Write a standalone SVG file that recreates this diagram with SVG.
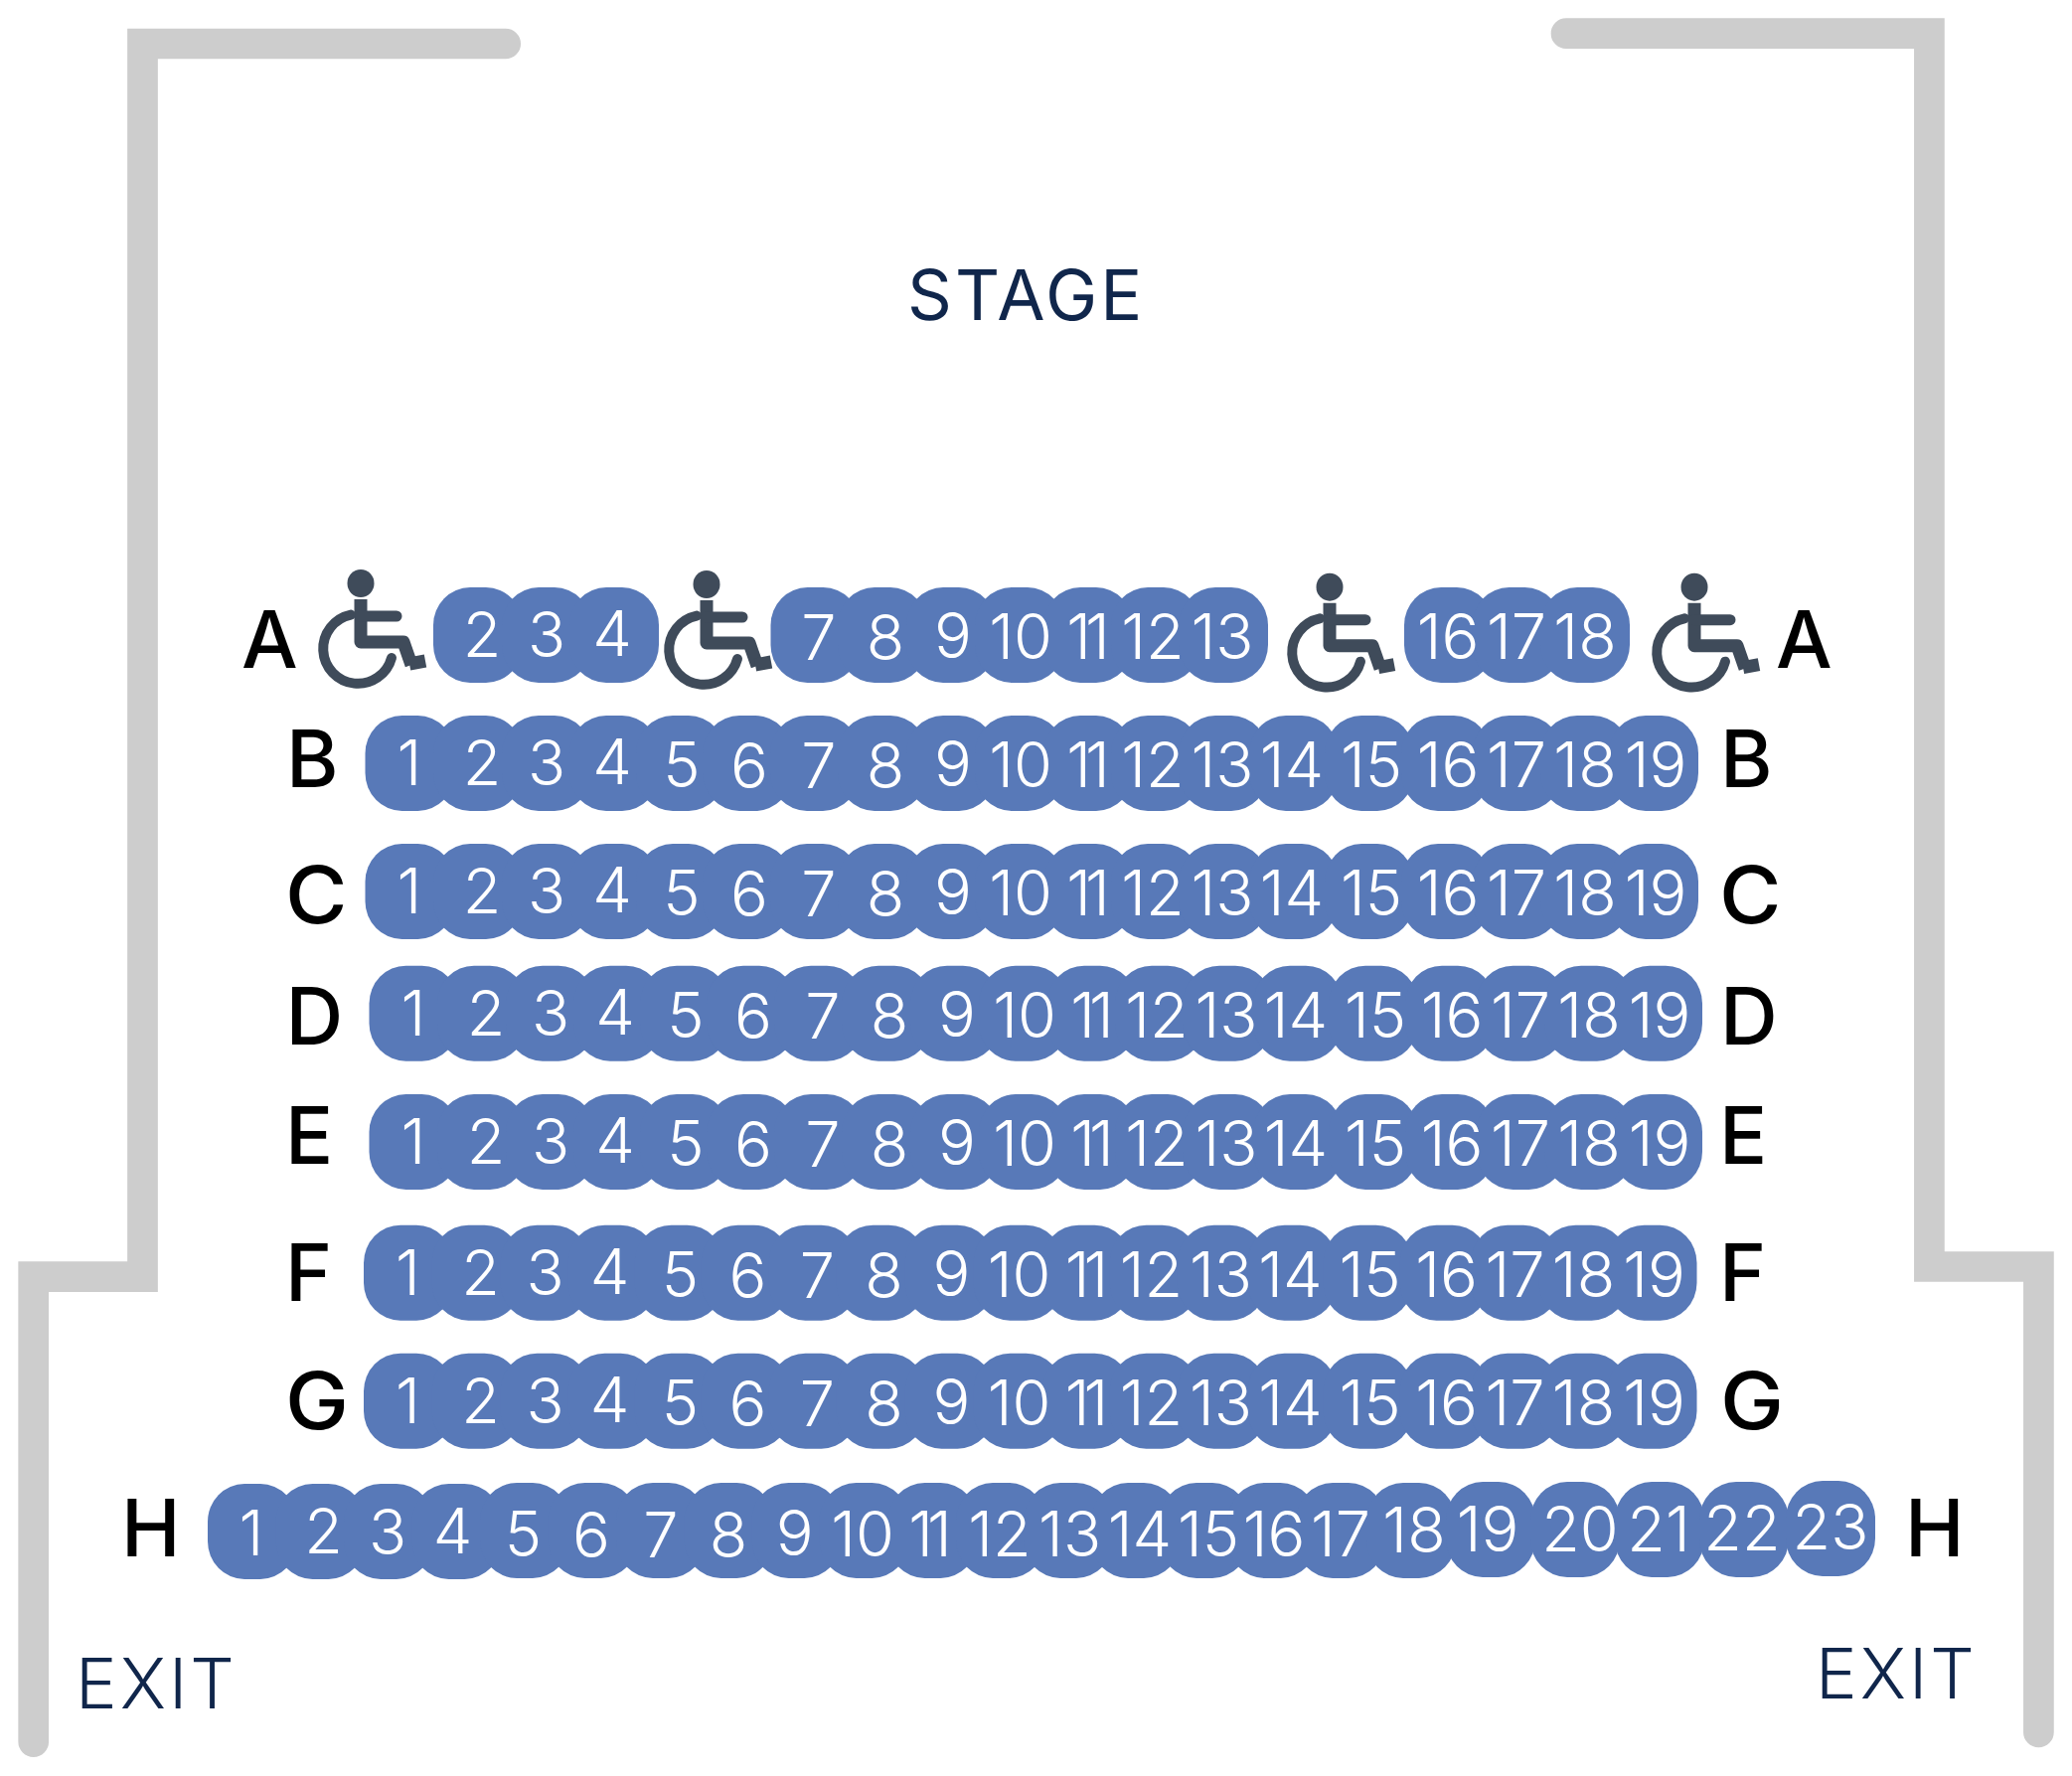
<svg xmlns="http://www.w3.org/2000/svg" width="2085" height="1787" viewBox="0 0 2085 1787">
<style>
.wall{fill:none;stroke:#cdcdcd;stroke-width:30.7;stroke-linecap:round;stroke-linejoin:miter}
.t{font-family:"Inter","Liberation Sans",sans-serif;fill:#10264b}
.lab{font-family:"Inter","Liberation Sans",sans-serif;font-size:80px;font-weight:500;fill:#000}
.n{font-family:"Inter","Liberation Sans",sans-serif;font-size:63px;font-weight:300;fill:#fff;text-anchor:middle}
.e{letter-spacing:-6px}
.seat{fill:#5879b8}
.wc{fill:none;stroke:#3f4b5a;stroke-linejoin:round}
</style>
<defs>
<rect id="s" class="seat" x="-45" y="0" width="90" height="96" rx="37" ry="38"/>
<g id="w">
<ellipse cx="0" cy="0" rx="13.5" ry="14" fill="#3f4b5a"/>
<path class="wc" d="M0,16V59H43L51,82" stroke-width="13"/>
<path class="wc" d="M0,33H36" stroke-width="11" stroke-linecap="round"/>
<path class="wc" d="M49,81L65,78" stroke-width="13"/>
<path class="wc" d="M-10,31.6A35,35 0 1 0 31,75" stroke-width="10" stroke-linecap="round"/>
</g>
<g id="seats19">
<use href="#s" x="412.5"/><use href="#s" x="481"/><use href="#s" x="550"/><use href="#s" x="618"/><use href="#s" x="685"/><use href="#s" x="752"/><use href="#s" x="820"/><use href="#s" x="888"/><use href="#s" x="957"/><use href="#s" x="1026"/><use href="#s" x="1095"/><use href="#s" x="1163"/><use href="#s" x="1231"/><use href="#s" x="1302"/><use href="#s" x="1378"/><use href="#s" x="1455"/><use href="#s" x="1526.5"/><use href="#s" x="1595"/><use href="#s" x="1664"/>
</g>
</defs>
<rect width="2085" height="1787" fill="#fff"/>
<g id="walls">
<path class="wall" d="M508.7,44H143.5V1284.7H33.7V1752.6"/>
<path class="wall" d="M1576,33.7H1941.4V1274.5H2051.4V1743"/>
</g>
<text id="stage" class="t" x="913" y="322" font-size="70" letter-spacing="3">STAGE</text>
<text id="exit-left" class="t" x="76" y="1718.7" font-size="70" font-weight="300" letter-spacing="3">EXIT</text>
<text id="exit-right" class="t" x="1827" y="1708.7" font-size="70" font-weight="300" letter-spacing="3">EXIT</text>
<g id="row-labels">
<text class="lab" x="243" y="672">A</text><text class="lab" x="1787" y="672">A</text>
<text class="lab" x="288" y="791.7">B</text><text class="lab" x="1731" y="791.7">B</text>
<text class="lab" x="287" y="929" textLength="62.5" lengthAdjust="spacingAndGlyphs">C</text><text class="lab" x="1730" y="929" textLength="62.5" lengthAdjust="spacingAndGlyphs">C</text>
<text class="lab" x="287.5" y="1050.7">D</text><text class="lab" x="1731" y="1050.7">D</text>
<text class="lab" x="287" y="1171">E</text><text class="lab" x="1730" y="1171">E</text>
<text class="lab" x="287" y="1309">F</text><text class="lab" x="1730" y="1309">F</text>
<text class="lab" x="287" y="1438" textLength="64" lengthAdjust="spacingAndGlyphs">G</text><text class="lab" x="1731" y="1438" textLength="64" lengthAdjust="spacingAndGlyphs">G</text>
<text class="lab" x="122" y="1566">H</text><text class="lab" x="1917" y="1566">H</text>
</g>
<g id="wheelchair-1"><use href="#w" x="363" y="587"/></g>
<g id="wheelchair-2"><use href="#w" x="711" y="588"/></g>
<g id="wheelchair-3"><use href="#w" x="1338" y="590.7"/></g>
<g id="wheelchair-4"><use href="#w" x="1705" y="590.7"/></g>
<g id="row-a" transform="translate(0,591)">
<use href="#s" x="481"/><use href="#s" x="550"/><use href="#s" x="618"/><use href="#s" x="820.5"/><use href="#s" x="888"/><use href="#s" x="957"/><use href="#s" x="1026"/><use href="#s" x="1095"/><use href="#s" x="1163"/><use href="#s" x="1231"/><use href="#s" x="1458"/><use href="#s" x="1526.5"/><use href="#s" x="1595"/>
<text class="n" x="485" y="70">2</text><text class="n" x="550" y="70">3</text><text class="n" x="616" y="69">4</text><text class="n" x="824" y="73">7</text><text class="n" x="891" y="73">8</text><text class="n" x="959" y="71">9</text><text class="n" x="1027" y="72">10</text><text class="n e" x="1092" y="72">11</text><text class="n" x="1160" y="72">12</text><text class="n" x="1230" y="72">13</text><text class="n" x="1457" y="72">16</text><text class="n" x="1526" y="72">17</text><text class="n" x="1595" y="72">18</text>
</g>
<g id="row-b" transform="translate(0,720)">
<use href="#seats19"/>
<text class="n" x="412" y="70">1</text><text class="n" x="485" y="70">2</text><text class="n" x="550" y="70">3</text><text class="n" x="616" y="69">4</text><text class="n" x="686" y="72">5</text><text class="n" x="754" y="73">6</text><text class="n" x="824" y="73">7</text><text class="n" x="891" y="73">8</text><text class="n" x="959" y="71">9</text><text class="n" x="1027" y="72">10</text><text class="n e" x="1092" y="72">11</text><text class="n" x="1160" y="72">12</text><text class="n" x="1230" y="72">13</text><text class="n" x="1300" y="72">14</text><text class="n" x="1380" y="72">15</text><text class="n" x="1457" y="72">16</text><text class="n" x="1526" y="72">17</text><text class="n" x="1595" y="72">18</text><text class="n" x="1666" y="72">19</text>
</g>
<g id="row-c" transform="translate(0,849)">
<use href="#seats19"/>
<text class="n" x="412" y="70">1</text><text class="n" x="485" y="70">2</text><text class="n" x="550" y="70">3</text><text class="n" x="616" y="69">4</text><text class="n" x="686" y="72">5</text><text class="n" x="754" y="73">6</text><text class="n" x="824" y="73">7</text><text class="n" x="891" y="73">8</text><text class="n" x="959" y="71">9</text><text class="n" x="1027" y="72">10</text><text class="n e" x="1092" y="72">11</text><text class="n" x="1160" y="72">12</text><text class="n" x="1230" y="72">13</text><text class="n" x="1300" y="72">14</text><text class="n" x="1380" y="72">15</text><text class="n" x="1457" y="72">16</text><text class="n" x="1526" y="72">17</text><text class="n" x="1595" y="72">18</text><text class="n" x="1666" y="72">19</text>
</g>
<g id="row-d" transform="translate(4,971.7)">
<use href="#seats19"/>
<text class="n" x="412" y="70">1</text><text class="n" x="485" y="70">2</text><text class="n" x="550" y="70">3</text><text class="n" x="615" y="69">4</text><text class="n" x="686" y="72">5</text><text class="n" x="754" y="73">6</text><text class="n" x="824" y="73">7</text><text class="n" x="891" y="73">8</text><text class="n" x="959" y="71">9</text><text class="n" x="1027" y="72">10</text><text class="n e" x="1092" y="72">11</text><text class="n" x="1160" y="72">12</text><text class="n" x="1230" y="72">13</text><text class="n" x="1300" y="72">14</text><text class="n" x="1380" y="72">15</text><text class="n" x="1457" y="72">16</text><text class="n" x="1526" y="72">17</text><text class="n" x="1595" y="72">18</text><text class="n" x="1666" y="72">19</text>
</g>
<g id="row-e" transform="translate(4,1101)">
<use href="#seats19"/>
<text class="n" x="412" y="70">1</text><text class="n" x="485" y="70">2</text><text class="n" x="550" y="70">3</text><text class="n" x="615" y="69">4</text><text class="n" x="686" y="72">5</text><text class="n" x="754" y="73">6</text><text class="n" x="824" y="73">7</text><text class="n" x="891" y="73">8</text><text class="n" x="959" y="71">9</text><text class="n" x="1027" y="72">10</text><text class="n e" x="1092" y="72">11</text><text class="n" x="1160" y="72">12</text><text class="n" x="1230" y="72">13</text><text class="n" x="1300" y="72">14</text><text class="n" x="1380" y="72">15</text><text class="n" x="1457" y="72">16</text><text class="n" x="1526" y="72">17</text><text class="n" x="1595" y="72">18</text><text class="n" x="1666" y="72">19</text>
</g>
<g id="row-f" transform="translate(-1.5,1232.7)">
<use href="#seats19"/>
<text class="n" x="412" y="70">1</text><text class="n" x="485" y="70">2</text><text class="n" x="550" y="70">3</text><text class="n" x="615" y="69">4</text><text class="n" x="686" y="72">5</text><text class="n" x="754" y="73">6</text><text class="n" x="824" y="73">7</text><text class="n" x="891" y="73">8</text><text class="n" x="959" y="71">9</text><text class="n" x="1027" y="72">10</text><text class="n e" x="1092" y="72">11</text><text class="n" x="1160" y="72">12</text><text class="n" x="1230" y="72">13</text><text class="n" x="1300" y="72">14</text><text class="n" x="1380" y="72">15</text><text class="n" x="1457" y="72">16</text><text class="n" x="1526" y="72">17</text><text class="n" x="1595" y="72">18</text><text class="n" x="1666" y="72">19</text>
</g>
<g id="row-g" transform="translate(-1.5,1361.7)">
<use href="#seats19"/>
<text class="n" x="412" y="70">1</text><text class="n" x="485" y="70">2</text><text class="n" x="550" y="70">3</text><text class="n" x="615" y="69">4</text><text class="n" x="686" y="72">5</text><text class="n" x="754" y="73">6</text><text class="n" x="824" y="73">7</text><text class="n" x="891" y="73">8</text><text class="n" x="959" y="71">9</text><text class="n" x="1027" y="72">10</text><text class="n e" x="1092" y="72">11</text><text class="n" x="1160" y="72">12</text><text class="n" x="1230" y="72">13</text><text class="n" x="1300" y="72">14</text><text class="n" x="1380" y="72">15</text><text class="n" x="1457" y="72">16</text><text class="n" x="1526" y="72">17</text><text class="n" x="1595" y="72">18</text><text class="n" x="1666" y="72">19</text>
</g>
<g id="row-h" transform="translate(0,1492)">
<use href="#s" x="254" y="1"/><use href="#s" x="322.5" y="1"/><use href="#s" x="391" y="1"/><use href="#s" x="459.5" y="1"/><use href="#s" x="528"/><use href="#s" x="596.5"/><use href="#s" x="665"/><use href="#s" x="733.5"/><use href="#s" x="801.5"/><use href="#s" x="869.5"/><use href="#s" x="938.5"/><use href="#s" x="1007"/><use href="#s" x="1075"/><use href="#s" x="1143"/><use href="#s" x="1212"/><use href="#s" x="1280.5"/><use href="#s" x="1349"/><use href="#s" x="1420"/><use href="#s" x="1500" y="-1"/><use href="#s" x="1585" y="-1"/><use href="#s" x="1670" y="-1"/><use href="#s" x="1755" y="-1"/><use href="#s" x="1842" y="-2"/>
<text class="n" x="253" y="73">1</text><text class="n" x="325.5" y="71">2</text><text class="n" x="390" y="72">3</text><text class="n" x="455.6" y="71">4</text><text class="n" x="526.5" y="74">5</text><text class="n" x="595" y="75">6</text><text class="n" x="665" y="75">7</text><text class="n" x="733" y="75">8</text><text class="n" x="799.6" y="73">9</text><text class="n" x="868" y="74">10</text><text class="n e" x="933" y="74">11</text><text class="n" x="1006" y="74">12</text><text class="n" x="1076.6" y="74">13</text><text class="n" x="1147" y="74">14</text><text class="n" x="1216" y="74">15</text><text class="n" x="1282" y="74">16</text><text class="n" x="1349" y="74">17</text><text class="n" x="1423" y="70">18</text><text class="n" x="1497" y="69">19</text><text class="n" x="1590" y="69">20</text><text class="n" x="1669" y="69">21</text><text class="n" x="1753" y="68">22</text><text class="n" x="1842" y="67">23</text>
</g>
</svg>
